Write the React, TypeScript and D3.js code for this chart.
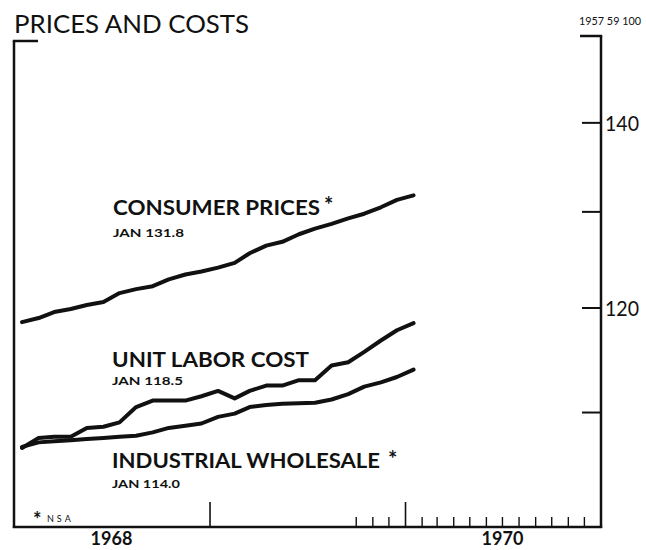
import React from "react";
import * as d3 from "d3";

const W = 646;
const H = 550;

// Monthly observations Jan 1968 .. Jan 1970 (index 1957-59 = 100)
const monthIndex = d3.range(25);
const consumerPrices = [118.6, 119.0, 119.6, 119.9, 120.3, 120.6, 121.5, 121.9, 122.2, 122.9, 123.4, 123.7, 124.1, 124.6, 125.6, 126.4, 126.8, 127.6, 128.2, 128.7, 129.3, 129.8, 130.5, 131.3, 131.8];
const unitLaborCost = [106.8, 107.7, 107.8, 107.8, 108.6, 108.7, 109.1, 110.5, 111.1, 111.1, 111.1, 111.5, 112.0, 111.3, 112.0, 112.5, 112.5, 113.0, 113.0, 114.4, 114.7, 115.7, 116.8, 117.8, 118.5];
const industrialWholesale = [106.9, 107.3, 107.4, 107.5, 107.6, 107.7, 107.8, 107.9, 108.2, 108.6, 108.8, 109.0, 109.6, 109.9, 110.5, 110.7, 110.8, 110.85, 110.9, 111.2, 111.7, 112.4, 112.8, 113.3, 114.0];

const rightTicks = [140, 130, 120, 110];
const rightLabels = [140, 120];
const yearLabels = [1968, 1970];
const tallTickYears = [1969, 1970];

const x = d3.scaleTime().domain([new Date(1968, 0, 1), new Date(1971, 0, 1)]).range([14, 601]);
const y = d3.scaleLog().domain([100, 150]).range([527, 40]);

const dateOf = (m: number) => new Date(1968, m, 16);
const line = d3
  .line<number>()
  .x((_, i) => x(dateOf(monthIndex[i])))
  .y((v) => y(v))
  .curve(d3.curveLinear);

const smallTickMonths = d3.timeMonths(new Date(1969, 9, 1), new Date(1971, 0, 1)).filter((d) => d.getMonth() !== 0);

const INK = "#111";
const FONT = "Lato, 'Open Sans', sans-serif";

export default function App() {
  return (
    <svg width={W} height={H} style={{ display: "block", position: "absolute", left: 0, top: 0 }} fontFamily={FONT}>
      <rect width={W} height={H} fill="#fff" />
      {/* Title */}
      <text x={14} y={33} fontSize={25} fill={INK} textLength={235} lengthAdjust="spacingAndGlyphs">PRICES AND COSTS</text>
      <text x={579} y={25} fontSize={11} fill={INK} textLength={62} lengthAdjust="spacingAndGlyphs">1957 59 100</text>

      {/* frame */}
      <line x1={14} y1={41} x2={14} y2={528} stroke={INK} strokeWidth={2.5} />
      <line x1={12.8} y1={41} x2={38} y2={41} stroke={INK} strokeWidth={2.5} />
      <line x1={601} y1={36} x2={601} y2={528} stroke={INK} strokeWidth={2.5} />
      <line x1={580} y1={36} x2={602.2} y2={36} stroke={INK} strokeWidth={2.5} />
      <line x1={12.8} y1={527} x2={602.2} y2={527} stroke={INK} strokeWidth={2.5} />

      {/* right ticks */}
      {rightTicks.map((t) => (
        <line key={t} x1={582} x2={601} y1={y(t)} y2={y(t)} stroke={INK} strokeWidth={2} />
      ))}
      {rightLabels.map((t) => (
        <text key={t} x={605} y={y(t) + 8} fontSize={21} fill={INK} textLength={34} lengthAdjust="spacingAndGlyphs">{t}</text>
      ))}

      {/* bottom ticks */}
      {tallTickYears.map((yr) => (
        <line key={yr} x1={x(new Date(yr, 0, 1))} x2={x(new Date(yr, 0, 1))} y1={527} y2={502} stroke={INK} strokeWidth={1.6} />
      ))}
      {smallTickMonths.map((d) => (
        <line key={d.toISOString()} x1={x(d)} x2={x(d)} y1={527} y2={517} stroke={INK} strokeWidth={1.4} />
      ))}
      {yearLabels.map((yr) => (
        <text key={yr} x={x(new Date(yr, 6, 1))} y={545} fontSize={18} fontWeight={700} fill={INK} textAnchor="middle">{yr}</text>
      ))}

      {/* series */}
      {[consumerPrices, unitLaborCost, industrialWholesale].map((s, i) => (
        <path key={i} d={line(s) || ""} fill="none" stroke={INK} strokeWidth={4} strokeLinejoin="round" strokeLinecap="round" />
      ))}

      {/* labels */}
      <text x={113} y={215} fontSize={21} fontWeight={700} fill={INK} textLength={207} lengthAdjust="spacingAndGlyphs">CONSUMER PRICES</text>
      <text x={324} y={213} fontSize={22} fontWeight={700} fill={INK}>*</text>
      <text x={113} y={237} fontSize={11.5} fontWeight={700} fill={INK} textLength={71} lengthAdjust="spacingAndGlyphs">JAN 131.8</text>

      <text x={112} y={367} fontSize={21} fontWeight={700} fill={INK} textLength={197} lengthAdjust="spacingAndGlyphs">UNIT LABOR COST</text>
      <text x={112} y={385} fontSize={11.5} fontWeight={700} fill={INK} textLength={71} lengthAdjust="spacingAndGlyphs">JAN 118.5</text>

      <text x={112} y={468} fontSize={21} fontWeight={700} fill={INK} textLength={268} lengthAdjust="spacingAndGlyphs">INDUSTRIAL WHOLESALE</text>
      <text x={388} y={467} fontSize={22} fontWeight={700} fill={INK}>*</text>
      <text x={112} y={488} fontSize={11.5} fontWeight={700} fill={INK} textLength={68} lengthAdjust="spacingAndGlyphs">JAN 114.0</text>

      <text x={33} y={527} fontSize={20} fontWeight={700} fill={INK}>*</text>
      <text x={47} y={522} fontSize={9} fill={INK} letterSpacing={3}>NSA</text>
    </svg>
  );
}
